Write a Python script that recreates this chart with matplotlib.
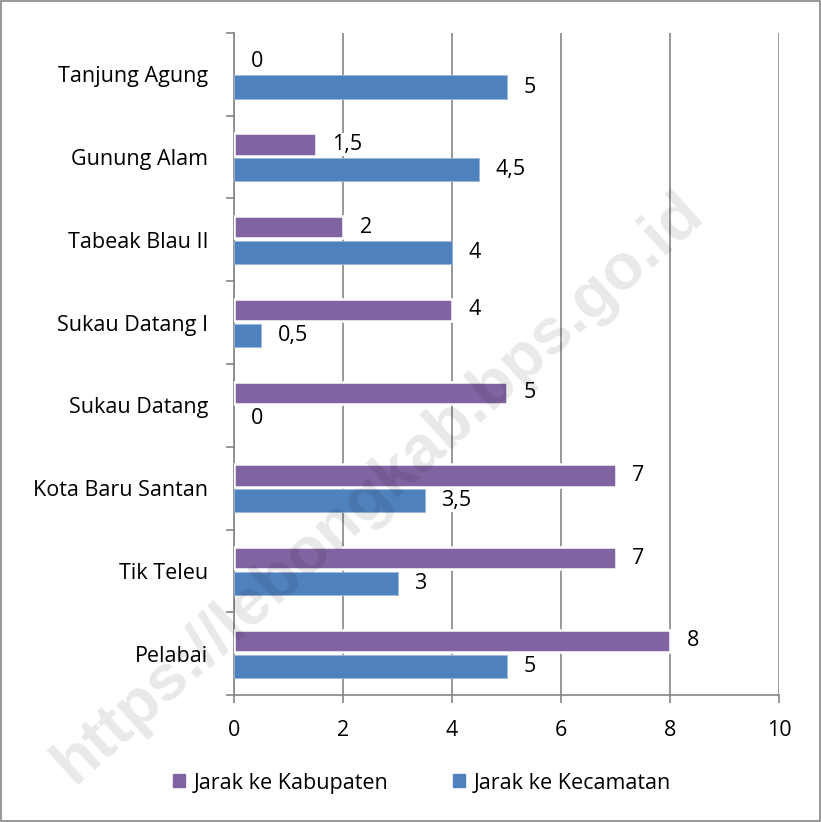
import matplotlib
matplotlib.use("Agg")
import matplotlib.pyplot as plt
from matplotlib.patches import Rectangle
import numpy as np

plt.rcParams['font.family'] = ['Open Sans', 'DejaVu Sans']

categories = ["Pelabai", "Tik Teleu", "Kota Baru Santan", "Sukau Datang",
              "Sukau Datang I", "Tabeak Blau II", "Gunung Alam", "Tanjung Agung"]
kabupaten = [8, 7, 7, 5, 4, 2, 1.5, 0]
kecamatan = [5, 3, 3.5, 0, 0.5, 4, 4.5, 5]
series_names = ["Jarak ke Kabupaten", "Jarak ke Kecamatan"]
x_ticks = [0, 2, 4, 6, 8, 10]

purple = "#8064A2"
blue = "#4F81BD"
gridc = "#868686"
FS = 15.5

fig = plt.figure(figsize=(8.21, 8.22), dpi=100)
ax = fig.add_axes([234/821, 1-695/822, 545/821, (695-33)/822])

y = np.arange(len(categories))
off = 0.153
ax.barh(y + off, kabupaten, height=0.27, color=purple, edgecolor="white",
        linewidth=[1.8 if v > 0 else 0 for v in kabupaten], zorder=3)
ax.barh(y - off, kecamatan, height=0.28, color=blue, edgecolor="#9db7db",
        linewidth=[0.6 if v > 0 else 0 for v in kecamatan], zorder=3)

def fmt(v):
    return ("%g" % v).replace(".", ",")

for yi, v in zip(y, kabupaten):
    ax.annotate(fmt(v), (v, yi + off), xytext=(12, 0), textcoords="offset points",
                ha="left", va="center", fontsize=FS, zorder=4,
                bbox=dict(boxstyle="square,pad=0.05", fc="white", ec="none"))
for yi, v in zip(y, kecamatan):
    ax.annotate(fmt(v), (v, yi - off), xytext=(12, 0), textcoords="offset points",
                ha="left", va="center", fontsize=FS, zorder=4,
                bbox=dict(boxstyle="square,pad=0.05", fc="white", ec="none"))

ax.set_xlim(0, 10)
ax.set_ylim(-0.5, len(categories) - 0.5)
ax.set_xticks(x_ticks)
ax.set_xticklabels([str(t) for t in x_ticks], fontsize=FS)
ax.set_yticks(y)
ax.set_yticklabels(categories, fontsize=FS)
ax.tick_params(axis="y", length=0, pad=18.5)
ax.tick_params(axis="x", length=6, width=1.2, color=gridc, pad=12, direction="out")
ax.set_yticks(np.arange(-0.5, len(categories)), minor=True)
ax.tick_params(axis="y", which="minor", length=6, width=1.2, color=gridc, direction="out")
ax.xaxis.grid(True, color=gridc, linewidth=1.2, zorder=0)
ax.set_axisbelow(True)
for s in ["top", "right"]:
    ax.spines[s].set_visible(False)
for s in ["left", "bottom"]:
    ax.spines[s].set_color(gridc)
    ax.spines[s].set_linewidth(1.2)

handles = [Rectangle((0, 0), 1, 1, color=purple), Rectangle((0, 0), 1, 1, color=blue)]
fig.legend(handles, series_names, loc="center", bbox_to_anchor=(422/821, 1-783/822),
           ncol=2, frameon=False, fontsize=FS, handlelength=0.55, handleheight=0.55,
           handletextpad=0.4, columnspacing=3.0)

# watermark
fig.text(378/821, 1-488/822, "https://lebongkab.bps.go.id", rotation=42,
         ha="center", va="center", fontsize=47, fontweight="bold",
         family="Liberation Sans", color="black", alpha=0.09, zorder=10)

fig.patches.append(Rectangle((0.001, 0.001), 0.998, 0.998, transform=fig.transFigure,
                             fill=False, edgecolor=gridc, linewidth=1.2))

fig.savefig("out.png", dpi=100)
